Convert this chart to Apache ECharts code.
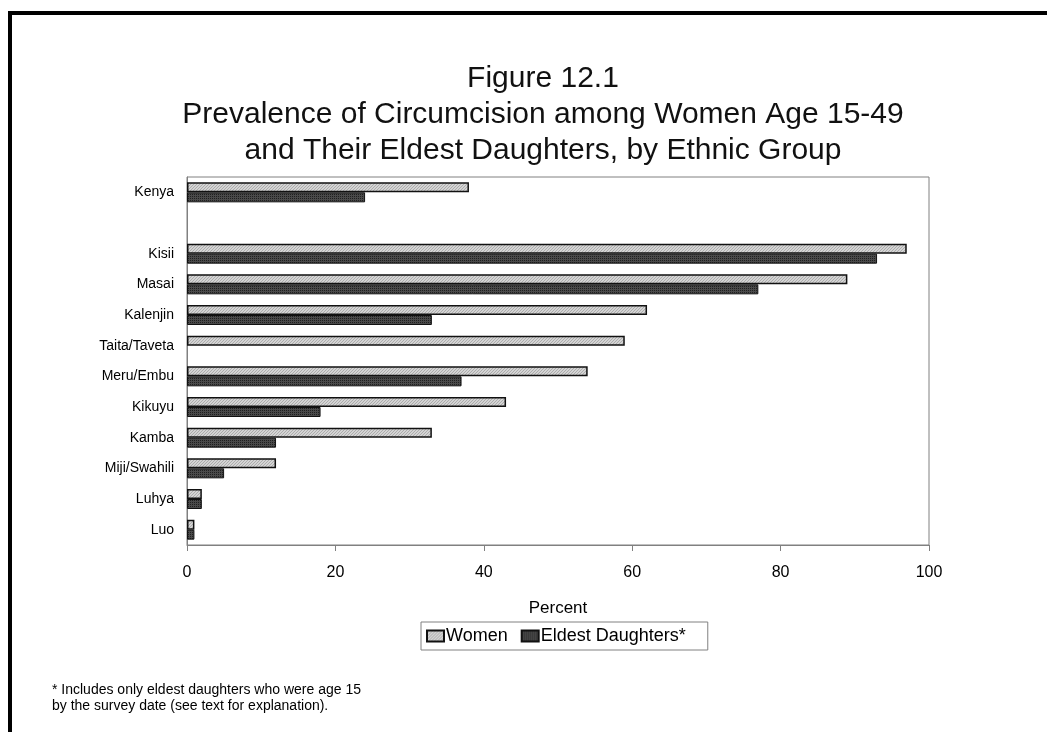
<!DOCTYPE html>
<html>
<head>
<meta charset="utf-8">
<title>Figure 12.1</title>
<script src="https://cdn.jsdelivr.net/npm/echarts@6/dist/echarts.min.js"></script>
<style>
  html, body { margin: 0; padding: 0; background: #fff; }
  #chart { width: 1047px; height: 732px; }
</style>
</head>
<body>
<div id="chart"></div>
<script>
// ethnic groups (the empty one is the gap under Kenya)
var categories = ['Kenya', '', 'Kisii', 'Masai', 'Kalenjin', 'Taita/Taveta', 'Meru/Embu', 'Kikuyu', 'Kamba', 'Miji/Swahili', 'Luhya', 'Luo'];
var women = [38, null, 97, 89, 62, 59, 54, 43, 33, 12, 2, 1];
var daughters = [24, null, 93, 77, 33, null, 37, 18, 12, 5, 2, 1];
var xTicks = [0, 20, 40, 60, 80, 100];

var FONT = '"Liberation Sans", Arial, sans-serif';

// fine diagonal hatch for women bars
function womenPattern() {
  var c = document.createElement('canvas');
  c.width = 3; c.height = 3;
  var g = c.getContext('2d');
  g.fillStyle = '#d4d4d4';
  g.fillRect(0, 0, 3, 3);
  g.fillStyle = '#acacac';
  for (var i = 0; i < 3; i++) g.fillRect(2 - i, i, 1, 1);
  return { image: c, repeat: 'repeat' };
}

// dotted dark fill for daughters bars
function daughtersPattern() {
  var c = document.createElement('canvas');
  c.width = 2; c.height = 2;
  var g = c.getContext('2d');
  g.fillStyle = '#4a4a4a';
  g.fillRect(0, 0, 2, 2);
  g.fillStyle = '#202020';
  g.fillRect(0, 0, 1, 1);
  return { image: c, repeat: 'repeat' };
}

var myChart = echarts.init(document.getElementById('chart'), null, { renderer: 'canvas' });

myChart.setOption({
  animation: false,
  backgroundColor: '#fff',
  title: {
    text: 'Figure 12.1\nPrevalence of Circumcision among Women Age 15-49\nand Their Eldest Daughters, by Ethnic Group',
    left: 538,
    top: 56,
    textAlign: 'center',
    textStyle: {
      fontFamily: FONT,
      fontWeight: 'normal',
      fontSize: 30,
      lineHeight: 36,
      color: '#111'
    }
  },
  grid: {
    left: 187,
    right: 118,
    top: 177,
    bottom: 187,
    show: true,
    borderColor: '#808080',
    borderWidth: 1,
    containLabel: false
  },
  legend: {
    left: 421,
    top: 622,
    orient: 'horizontal',
    borderColor: '#808080',
    borderWidth: 1,
    padding: [5, 22, 5, 5],
    itemGap: 13,
    itemWidth: 17,
    itemHeight: 11,
    icon: 'rect',
    textStyle: { fontFamily: FONT, fontSize: 18, color: '#000', padding: [0, 0, 0, -3] },
    data: ['Women', 'Eldest Daughters*']
  },
  xAxis: {
    type: 'value',
    min: 0,
    max: 100,
    interval: 20,
    name: 'Percent',
    nameLocation: 'middle',
    nameGap: 55,
    nameTextStyle: { fontFamily: FONT, fontSize: 17, color: '#000' },
    axisLine: { show: true, lineStyle: { color: '#808080', width: 1 } },
    axisTick: { show: true, inside: false, length: 6, lineStyle: { color: '#808080' } },
    axisLabel: {
      fontFamily: FONT, fontSize: 16, color: '#000', margin: 20,
      formatter: function (v) { return xTicks.indexOf(v) >= 0 ? String(v) : ''; }
    },
    splitLine: { show: false }
  },
  yAxis: {
    type: 'category',
    inverse: true,
    data: categories,
    axisLine: { show: true, lineStyle: { color: '#808080', width: 1 } },
    axisTick: { show: false },
    axisLabel: { fontFamily: FONT, fontSize: 14, color: '#000', margin: 13 }
  },
  series: [
    {
      name: 'Women',
      type: 'bar',
      data: women,
      barWidth: 10,
      barGap: '0%',
      itemStyle: { color: womenPattern(), borderColor: '#111', borderWidth: 1.5 }
    },
    {
      name: 'Eldest Daughters*',
      type: 'bar',
      data: daughters,
      barWidth: 10,
      barGap: '0%',
      itemStyle: { color: daughtersPattern(), borderColor: '#111', borderWidth: 1 }
    }
  ],
  graphic: [
    // frame lines at the top and left
    { type: 'rect', shape: { x: 8, y: 11, width: 1039, height: 4 }, style: { fill: '#000' } },
    { type: 'rect', shape: { x: 8, y: 11, width: 4, height: 721 }, style: { fill: '#000' } },
    {
      type: 'text',
      left: 52,
      top: 682,
      style: {
        text: '* Includes only eldest daughters who were age 15\nby the survey date (see text for explanation).',
        font: '14px ' + FONT,
        lineHeight: 16,
        fill: '#000'
      }
    }
  ]
});
</script>
</body>
</html>
